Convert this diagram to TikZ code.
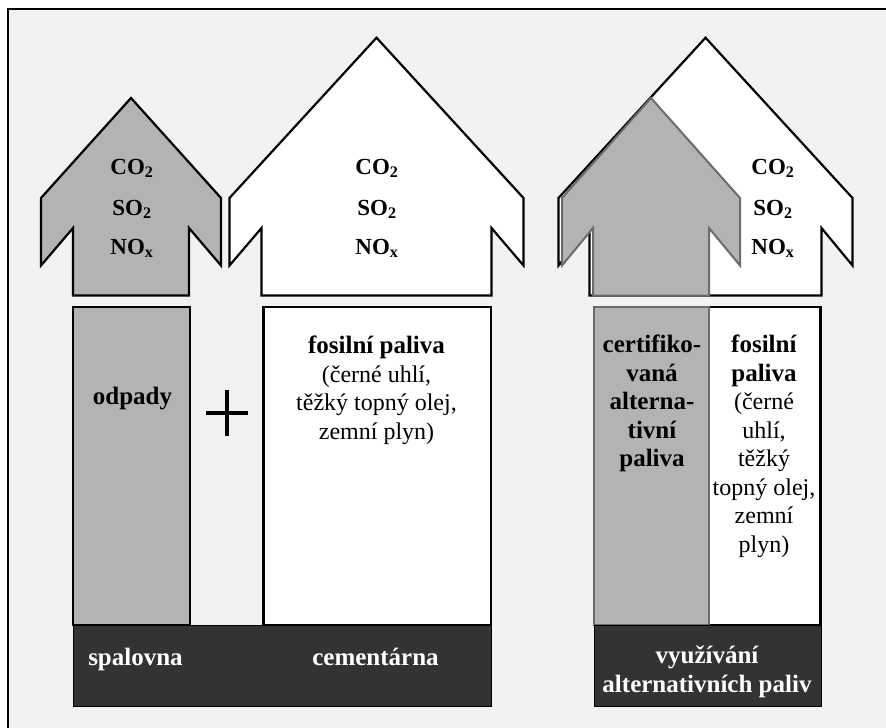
\documentclass[tikz,border=0pt]{standalone}
\usepackage{fontspec}
\setmainfont{Liberation Serif}

\definecolor{paper}{HTML}{F2F2F2}
\definecolor{ashgrey}{HTML}{B3B3B3}
\definecolor{edgegrey}{HTML}{6B6B6B}
\definecolor{kiln}{HTML}{333333}

% emission arrow: style, centre x, tip y, head half width, shaft half width
\newcommand{\fluearrow}[5]{%
  \draw[#1] (#2,#3) -- ({#2+#4},198) -- ({#2+#4},265.5) -- ({#2+#5},228)
    -- ({#2+#5},295.5) -- ({#2-#5},295.5) -- ({#2-#5},228)
    -- ({#2-#4},265.5) -- ({#2-#4},198) -- cycle;}

\begin{document}
\begin{tikzpicture}[x=1pt, y=-1pt,
    gas/.style={font=\fontsize{23}{26}\selectfont\bfseries, anchor=base},
    label/.style={font=\fontsize{24}{28.5}\selectfont, align=center, anchor=north, inner sep=0},
    boldlabel/.style={label, font=\fontsize{25}{28.5}\selectfont\bfseries},
    barlabel/.style={boldlabel, text=white}]
      \useasboundingbox (0,0) rectangle (886,728);
      \clip (0,0) rectangle (886,728);
      \fill[white] (0,0) rectangle (886,728);
      \filldraw[fill=paper, line width=2] (8,9) rectangle (900,740);

      % arrows
      \fluearrow{fill=ashgrey, line width=2.2, line join=miter}{131}{98}{90}{58}
      \fluearrow{fill=white, line width=2.2, line join=miter}{376.5}{37.7}{147}{115}
      \fluearrow{fill=white, line width=2.2, line join=miter}{705.5}{37.7}{147}{116}
      \fluearrow{fill=ashgrey, draw=edgegrey, line width=2, line join=miter}{651}{98}{89}{58}

      % boxes
      \filldraw[fill=ashgrey, line width=2.4] (73,306.7) rectangle (190,625);
      \filldraw[fill=white, line width=2.4] (263.3,306.7) rectangle (491,625);
      \filldraw[fill=white, line width=2.4] (594,306.7) rectangle (820.5,625);
      \filldraw[fill=ashgrey, draw=edgegrey, line width=2] (594,306.7) rectangle (708.7,625);
      \filldraw[fill=kiln, line width=1] (73,625) rectangle (491,706.7);
      \filldraw[fill=kiln, line width=1] (594,625) rectangle (821,706.7);

      % plus
      \draw[line width=4] (205.7,413) -- (248.3,413) (226.7,390) -- (226.7,435.7);

      % gases
      \foreach \x/\n in {132/a,377/b,773/c} {
        \node[gas] (co\n) at (\x,174) {CO\textsubscript{2}};
        \node[gas] (so\n) at (\x,215) {SO\textsubscript{2}};
        \node[gas] (no\n) at (\x,254) {NO\textsubscript{x}};
      }

      % box texts
      \node[boldlabel, anchor=base] (odpady) at (132.5,404) {odpady};
      \node[label] (fosil) at (376.5,336) {\textbf{\fontsize{25}{28.5}\selectfont fosilní paliva}\\(černé uhlí,\\těžký topný olej,\\zemní plyn)};
      \node[boldlabel] (certif) at (652,334.7) {certifiko-\\vaná\\alterna-\\tivní\\paliva};
      \node[label] (fosil2) at (764,334.7) {\textbf{\fontsize{25}{28.5}\selectfont fosilní}\\\textbf{\fontsize{25}{28.5}\selectfont paliva}\\(černé\\uhlí,\\těžký\\topný olej,\\zemní\\plyn)};

      % plants
      \node[barlabel, anchor=base] (spal) at (135.5,665) {spalovna};
      \node[barlabel, anchor=base] (cem) at (375.5,665) {cementárna};
      \node[barlabel] (vyuz) at (707,646) {využívání\\alternativních paliv};
    \end{tikzpicture}
\end{document}
